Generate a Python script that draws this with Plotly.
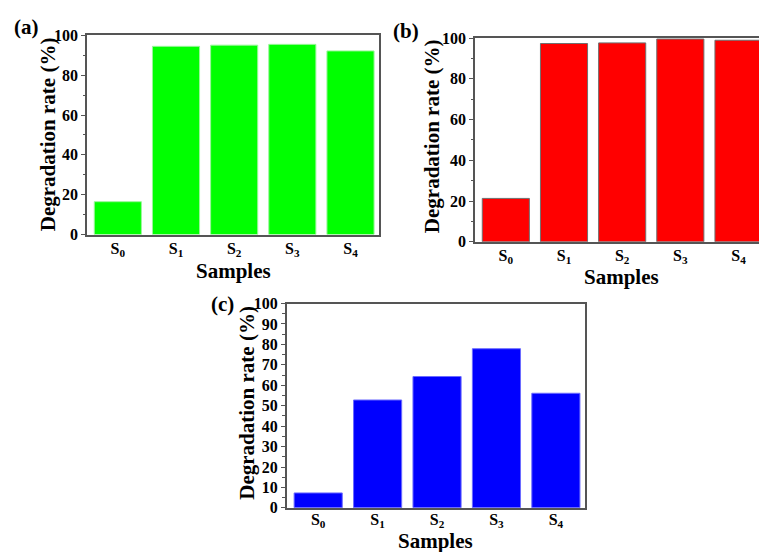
import plotly.graph_objects as go

W, H = 767, 552

categories = ["S0", "S1", "S2", "S3", "S4"]
tick_labels = ["S<sub>0</sub>", "S<sub>1</sub>", "S<sub>2</sub>", "S<sub>3</sub>", "S<sub>4</sub>"]
values_a = [16.5, 94.5, 95.1, 95.5, 92.2]
values_b = [21.3, 97.3, 97.6, 99.5, 98.9]
values_c = [7.3, 52.8, 64.3, 77.9, 56.1]

FONT = "Liberation Serif"

def px_x(x):
    return x / W

def px_y(y):
    return 1 - y / H

panels = [
    dict(v=values_a, color="#00FF00", line="#9cf59c", xd=(79, 371), yd=(20, 225.5), dtick=20, minor=10,
         tag="(a)", tagpos=(18, 11), ytitle=(40, 122), xtitle=(225, 263), standoff=-2),
    dict(v=values_b, color="#FF0000", line="#707070", xd=(467, 759), yd=(22.7, 233), dtick=20, minor=10,
         tag="(b)", tagpos=(398, 15), ytitle=(424, 124), xtitle=(613, 269), standoff=-2),
    dict(v=values_c, color="#0000FF", line="#6b6bff", xd=(278.7, 577), yd=(296.7, 507.5), dtick=10, minor=5,
         tag="(c)", tagpos=(214, 297), ytitle=(239, 399), xtitle=(427, 542), standoff=-4),
]

fig = go.Figure()
annotations = []
layout = {}
for i, p in enumerate(panels):
    n = "" if i == 0 else str(i + 1)
    fig.add_trace(go.Bar(
        x=categories, y=p["v"], marker=dict(color=p["color"], line=dict(color=p["line"], width=1)),
        xaxis="x" + n, yaxis="y" + n, showlegend=False, width=0.81,
    ))
    layout["xaxis" + n] = dict(
        domain=[px_x(p["xd"][0]), px_x(p["xd"][1])], anchor="y" + n,
        range=[-0.53, 4.49], tickmode="array", tickvals=categories, ticktext=tick_labels,
        showline=True, linecolor="#555555", linewidth=1.5, mirror=True, ticks="",
        ticklabelstandoff=p["standoff"],
        tickfont=dict(family=FONT, size=16, color="black", weight="bold"), showgrid=False,
        zeroline=False, fixedrange=True,
    )
    layout["yaxis" + n] = dict(
        domain=[px_y(p["yd"][1]), px_y(p["yd"][0])], anchor="x" + n,
        range=[0, 100], dtick=p["dtick"], tick0=0,
        showline=True, linecolor="#555555", linewidth=1.5, mirror=True,
        ticks="outside", ticklen=4, tickwidth=1.2, tickcolor="#555555",
        minor=dict(ticks="outside", ticklen=2.5, dtick=p["minor"], tickcolor="#555555", tickwidth=1),
        tickfont=dict(family=FONT, size=16, color="black", weight="bold"), showgrid=False,
        zeroline=False, fixedrange=True,
    )
    annotations.append(dict(text=p["tag"], x=px_x(p["tagpos"][0]), y=px_y(p["tagpos"][1]),
                            xref="paper", yref="paper", showarrow=False, xanchor="center", yanchor="middle",
                            font=dict(family=FONT, size=21, color="black", weight="bold")))
    annotations.append(dict(text="Degradation rate (%)", x=px_x(p["ytitle"][0]), y=px_y(p["ytitle"][1]),
                            xref="paper", yref="paper", showarrow=False, textangle=-90,
                            xanchor="center", yanchor="middle",
                            font=dict(family=FONT, size=21, color="black", weight="bold")))
    annotations.append(dict(text="Samples", x=px_x(p["xtitle"][0]), y=px_y(p["xtitle"][1]),
                            xref="paper", yref="paper", showarrow=False,
                            xanchor="center", yanchor="middle",
                            font=dict(family=FONT, size=21, color="black", weight="bold")))

fig.update_layout(
    width=W, height=H, margin=dict(l=0, r=0, t=0, b=0),
    paper_bgcolor="white", plot_bgcolor="white",
    annotations=annotations, bargap=0.19, **layout,
)

fig.write_html("out.html")
